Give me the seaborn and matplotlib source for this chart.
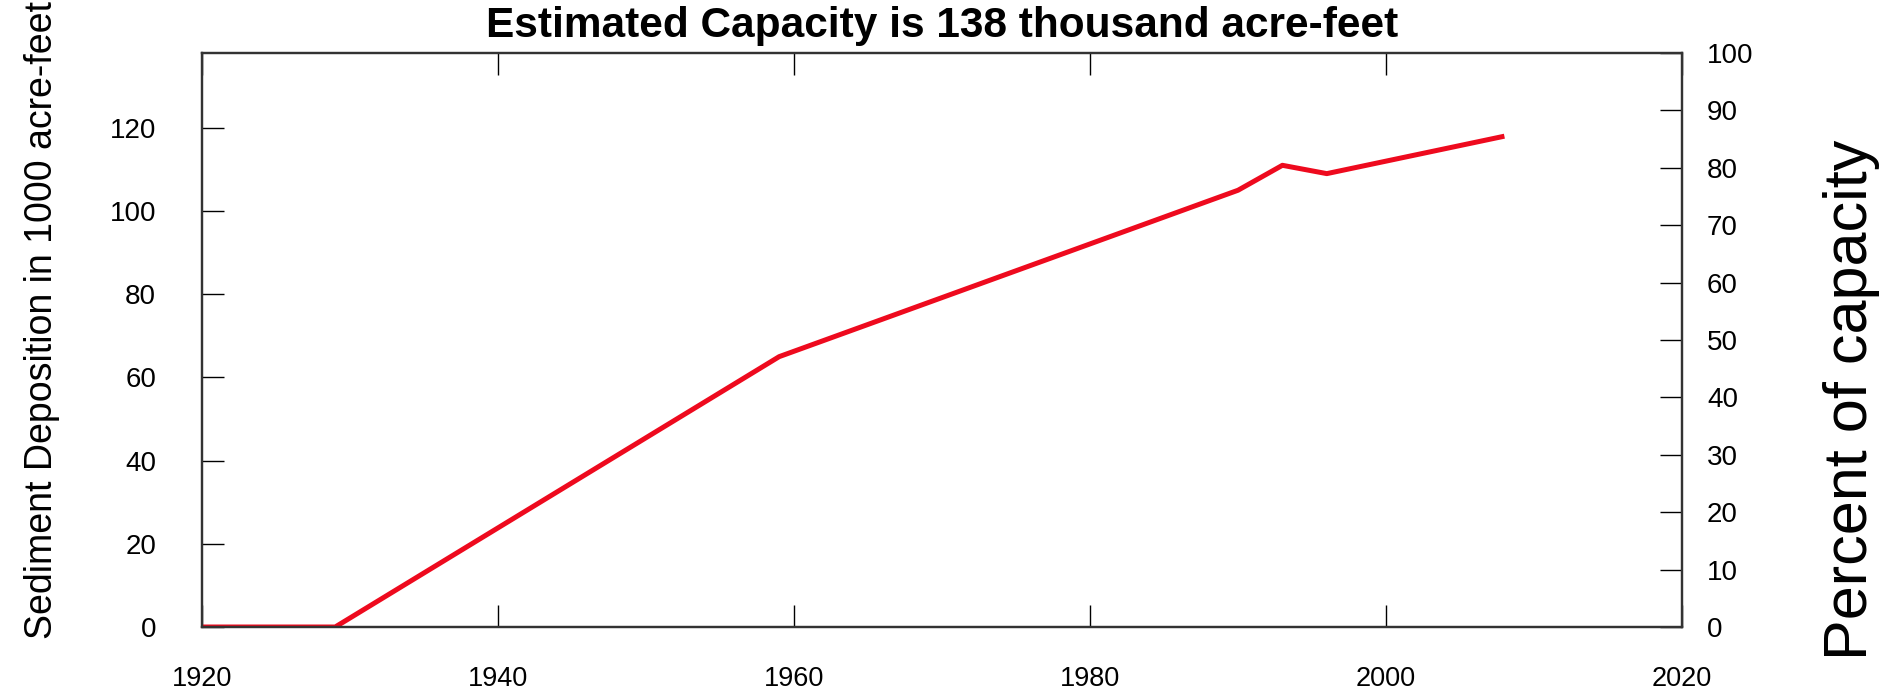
import matplotlib
matplotlib.use("Agg")
import matplotlib.pyplot as plt
import seaborn as sns
import pandas as pd

# ---- data ----
years = [1920, 1929, 1959, 1990, 1993, 1996, 2008]
sediment = [0, 0, 65, 105, 111, 109, 118]          # 1000 acre-feet
capacity = 138                                       # thousand acre-feet
x_ticks = [1920, 1940, 1960, 1980, 2000, 2020]
left_ticks = [0, 20, 40, 60, 80, 100, 120]
right_ticks = [0, 10, 20, 30, 40, 50, 60, 70, 80, 90, 100]
title_text = "Estimated Capacity is 138 thousand acre-feet"
left_label = "Sediment Deposition in 1000 acre-feet"
right_label = "Percent of capacity"

sns.set_style("ticks")
plt.rcParams["font.family"] = ["Liberation Sans", "DejaVu Sans"]

W, H = 1901, 691
fig = plt.figure(figsize=(W / 100, H / 100), dpi=100)
ax = fig.add_axes([202 / W, 1 - 627 / H, (1682 - 202) / W, (627 - 53) / H])

df = pd.DataFrame({"year": years, "sediment": sediment})
sns.lineplot(data=df, x="year", y="sediment", ax=ax, color="#ee0a1e",
             linewidth=3.6, solid_capstyle="butt")

ax.set_xlim(1920, 2020)
ax.set_ylim(0, capacity)
ax.set_xticks(x_ticks)
ax.set_yticks(left_ticks)
ax.set_xlabel("")
ax.set_ylabel(left_label, fontsize=27, color="black")
ax.yaxis.set_label_coords(60 / W, 1 - 320 / H, transform=fig.transFigure)

ax.tick_params(axis="both", direction="in", length=16, width=1.0, color="black",
               labelcolor="black")
ax.tick_params(axis="x", top=True, labeltop=False, pad=28, labelsize=19.5)
ax.tick_params(axis="y", right=False, pad=33, labelsize=20)

ax2 = ax.twinx()
ax2.set_ylim(0, 100)
ax2.set_yticks(right_ticks)
ax2.tick_params(axis="y", direction="in", length=16, width=1.0, color="black",
                labelsize=20, labelcolor="black", pad=18)
ax2.set_ylabel(right_label, fontsize=44, color="black")
ax2.yaxis.set_label_coords(1823 / W, 1 - 400 / H, transform=fig.transFigure)

for a in (ax, ax2):
    for s in a.spines.values():
        s.set_visible(True)
        s.set_color("#333333")
        s.set_linewidth(1.6)

fig.text((202 + 1682) / 2 / W, 1 - 37 / H, title_text, ha="center", va="baseline",
         fontsize=30.5, fontweight="bold", color="black")

fig.savefig("out.png", dpi=100, facecolor="white")
